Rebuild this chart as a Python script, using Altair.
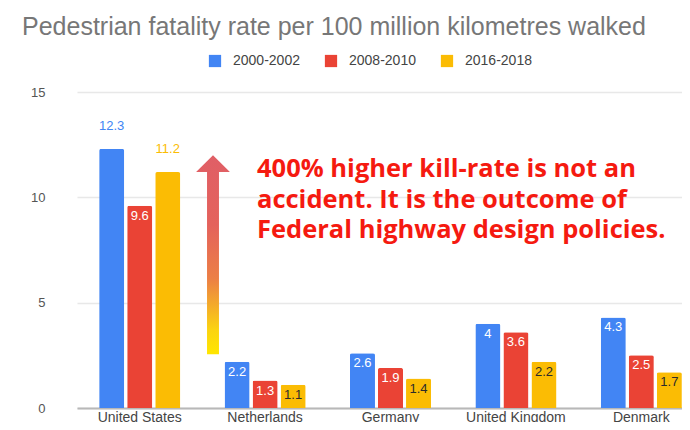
import altair as alt
import pandas as pd

countries = ["United States", "Netherlands", "Germany", "United Kingdom", "Denmark"]
periods = ["2000-2002", "2008-2010", "2016-2018"]
s2000 = [12.3, 2.2, 2.6, 4.0, 4.3]
s2008 = [9.6, 1.3, 1.9, 3.6, 2.5]
s2016 = [11.2, 1.1, 1.4, 2.2, 1.7]
colors = ["#4285F4", "#EA4335", "#FBBC04"]
y_ticks = [0, 5, 10, 15]
note_lines = ["400% higher kill-rate is not an",
              "accident. It is the outcome of",
              "Federal highway design policies."]

rows = []
for p, vals in zip(periods, [s2000, s2008, s2016]):
    for c, v in zip(countries, vals):
        rows.append({"country": c, "period": p, "value": v})
df = pd.DataFrame(rows)

W, H = 627, 316
FONT = "Liberation Sans"

x = alt.X("country:N", sort=countries, title=None,
          scale=alt.Scale(range=[22, 649], paddingInner=0, paddingOuter=0),
          axis=alt.Axis(labelAngle=0, ticks=False, domain=True, domainColor="#b8b8b8",
                        domainWidth=2, labelColor="#444444", labelFont=FONT,
                        labelFontSize=14, labelPadding=2, grid=False))
xo = alt.XOffset("period:N", sort=periods,
                 scale=alt.Scale(paddingInner=0.107, paddingOuter=0.79))
y = alt.Y("value:Q", title=None,
          scale=alt.Scale(domain=[0, 15], nice=False),
          axis=alt.Axis(values=y_ticks, domain=False, ticks=False, labelColor="#555555",
                        labelFont=FONT, labelFontSize=13, labelPadding=10,
                        gridColor="#e8e8e8", gridWidth=1.5))
color = alt.Color("period:N", sort=periods,
                  scale=alt.Scale(domain=periods, range=colors),
                  legend=alt.Legend(title=None, orient="none", direction="horizontal",
                                    legendX=153, legendY=-38, symbolType="square",
                                    symbolSize=150, symbolStrokeWidth=0,
                                    labelFont=FONT, labelFontSize=14,
                                    labelColor="#444444", labelOffset=11,
                                    columnPadding=24))

base = alt.Chart(df)
bars = base.mark_bar(cornerRadiusTopLeft=2, cornerRadiusTopRight=2).encode(
    x=x, xOffset=xo, y=y, color=color)

is_out = "datum.country == 'United States' && datum.period != '2008-2010'"
txt = alt.Text("value:Q", format=".1~f")
lab_out = base.transform_filter(is_out).mark_text(
    baseline="bottom", dy=-16, font=FONT, fontSize=13).encode(
    x=x, xOffset=xo, y=y, text=txt, color=color)
lab_white = base.transform_filter(
    f"!({is_out}) && datum.period != '2016-2018'").mark_text(
    baseline="top", dy=4, font=FONT, fontSize=13, color="white").encode(
    x=x, xOffset=xo, y=y, text=txt)
lab_dark = base.transform_filter(
    f"!({is_out}) && datum.period == '2016-2018'").mark_text(
    baseline="top", dy=4, font=FONT, fontSize=13, color="#2b2b2b").encode(
    x=x, xOffset=xo, y=y, text=txt)

grad = alt.LinearGradient(
    gradient="linear", x1=0, y1=1, x2=0, y2=0,
    stops=[alt.GradientStop(offset=0, color="#FFE600"),
           alt.GradientStop(offset=0.12, color="#FBD410"),
           alt.GradientStop(offset=0.38, color="#EC7F45"),
           alt.GradientStop(offset=0.65, color="#E4625C"),
           alt.GradientStop(offset=1, color="#E05F66")])
arrow_path = ("M0,-1 L0.17,-0.83 L0.06,-0.83 L0.06,1 L-0.06,1 "
              "L-0.06,-0.83 L-0.17,-0.83 Z")
arrow = alt.Chart(pd.DataFrame({"v": [7.28]})).mark_point(
    shape=arrow_path, size=199 * 199, filled=True, opacity=1,
    color=grad, strokeWidth=0).encode(
    x=alt.value(158), y=alt.Y("v:Q"))

note = alt.Chart(pd.DataFrame({"t": [note_lines]})).mark_text(
    align="left", baseline="alphabetic", font="Open Sans", fontWeight="bold",
    fontSize=25.5, lineHeight=30.5, color="#F51A10").encode(
    x=alt.value(202), y=alt.value(85), text="t")

chart = alt.layer(bars, lab_out, lab_white, lab_dark, arrow, note).properties(
    width=W, height=H,
    title=alt.TitleParams("Pedestrian fatality rate per 100 million kilometres walked",
                          anchor="start", frame="group", dx=-33, offset=14,
                          font=FONT, fontSize=25, fontWeight="normal", color="#777777"),
    autosize=alt.AutoSizeParams(type="none"),
    padding={"left": 47, "top": 84, "right": 0, "bottom": 14},
).configure_view(stroke=None)

chart.save("out.html", embed_options={"renderer": "svg", "actions": False})
